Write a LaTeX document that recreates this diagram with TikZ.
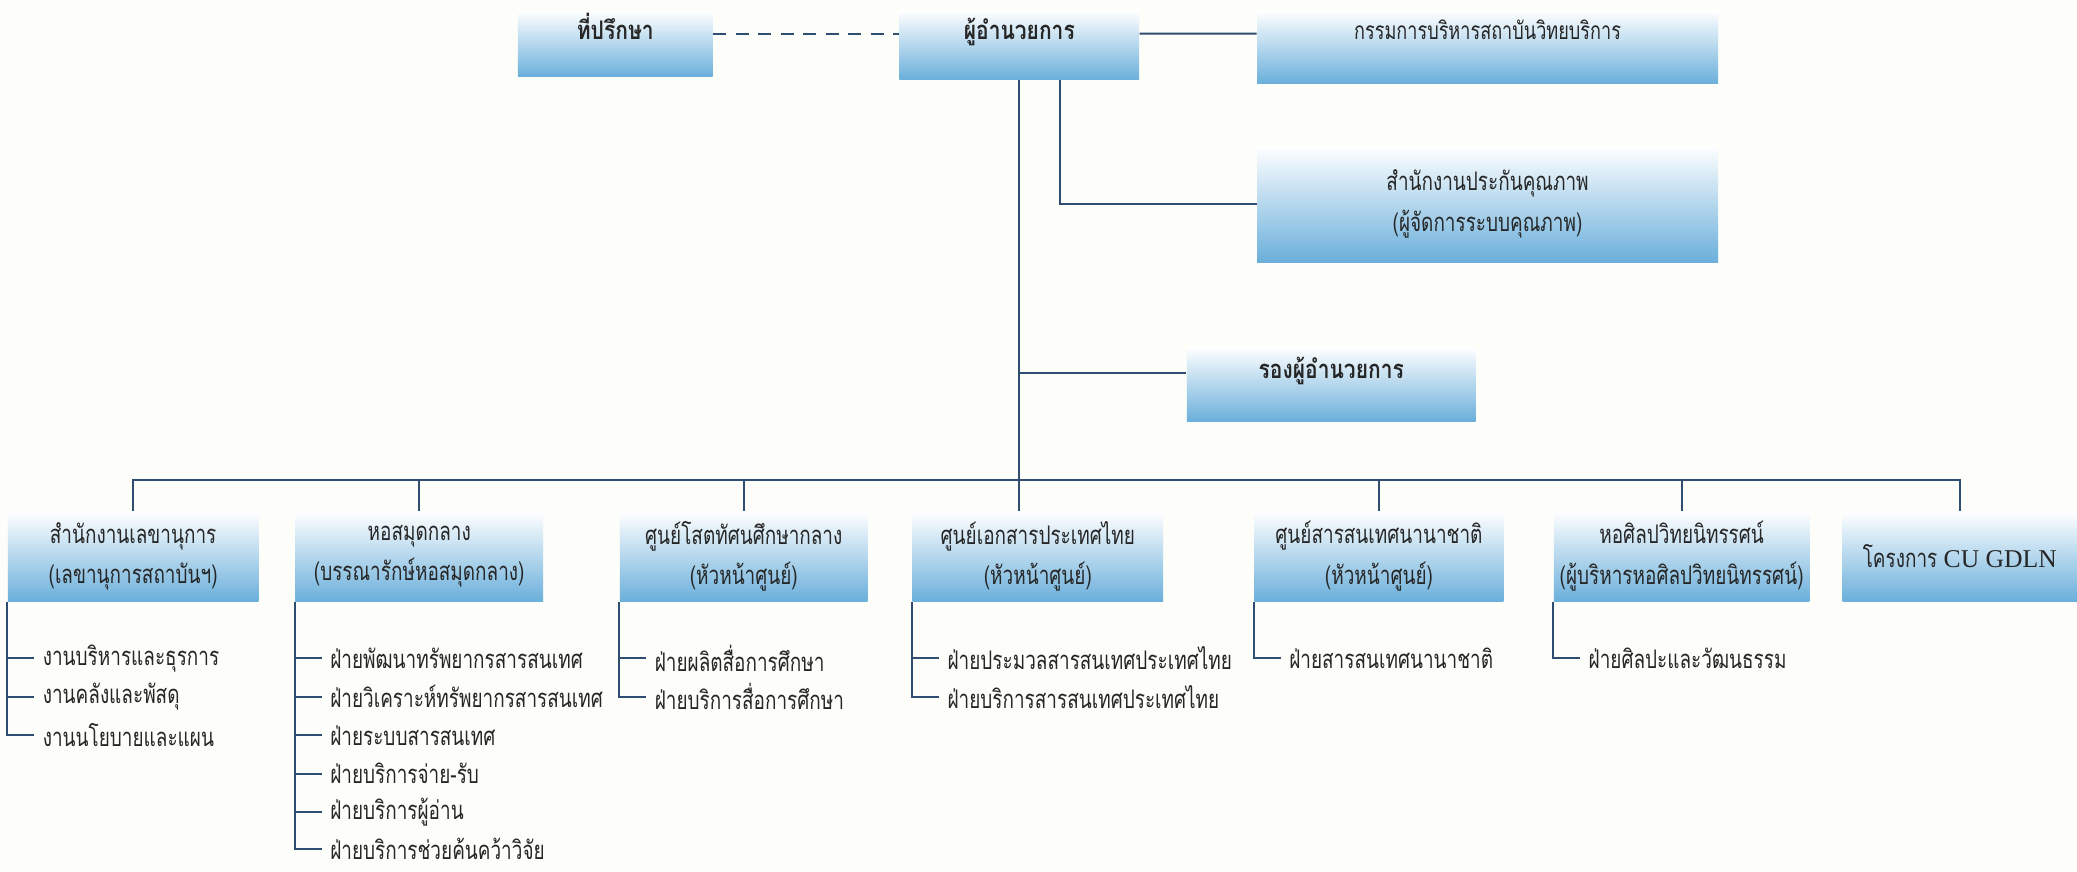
\documentclass[tikz,border=0pt]{standalone}
\usepackage{fontspec}
\usepackage{xcolor}
\usepackage{tikz}
\usetikzlibrary{positioning}
\setmainfont{Loma}[Script=Thai, FakeStretch=0.74]
\newfontfamily\headfont{Loma}[Script=Thai, FakeStretch=0.82]
\newfontfamily\latinfont{Liberation Serif}
\definecolor{boxblue}{HTML}{6AAFDB}
\definecolor{boxlight}{HTML}{CFE8F6}
\definecolor{linenavy}{HTML}{2F4D70}
\definecolor{inkgray}{HTML}{262626}
\definecolor{paper}{HTML}{FDFDF9}

\begin{document}
\begin{tikzpicture}[
    x=0.2mm, y=-0.2mm,
    every node/.style={font=\fontsize{11pt}{17.5pt}\selectfont, text=inkgray, inner sep=0pt},
    orgline/.style={line width=0.3mm, color=linenavy},
    headbox/.style={top color=white, middle color=boxlight, bottom color=boxblue, text height=4.4mm, text depth=5.6mm, font=\headfont\fontsize{11pt}{17.5pt}\selectfont\bfseries},
    unitbox/.style={top color=white, middle color=boxlight, bottom color=boxblue, minimum height=13.6mm, align=center},
    subitem/.style={anchor=west, inner xsep=1.2mm}
]
\fill[paper] (0,0) rectangle (1568,658);
\useasboundingbox (0,0) rectangle (1568,658);

\node (advisor) [headbox, minimum width=29.4mm] at (464.5,33) {ที่ปรึกษา};
\node (director) [headbox, minimum width=36.2mm, text depth=6mm] at (769.5,34) {ผู้อำนวยการ};
\node (board) [headbox, minimum width=69.6mm, text depth=6.6mm, font=\fontsize{10.5pt}{17.5pt}\selectfont] at (1123,35.5) {กรรมการบริหารสถาบันวิทยบริการ};
\node (qa) [unitbox, minimum width=69.6mm, minimum height=17.6mm] at (1123,154) {สำนักงานประกันคุณภาพ\\(ผู้จัดการระบบคุณภาพ)};
\node (deputy) [headbox, minimum width=43.6mm, text height=4.8mm, text depth=6.4mm] at (1005,290) {รองผู้อำนวยการ};
\coordinate (bus) at (769.5,362);

\node (secretariat) [unitbox, minimum width=37.8mm] at (100.5,420) {สำนักงานเลขานุการ\\(เลขานุการสถาบันฯ)};
\node (library) [unitbox, minimum width=37.4mm] at (316.5,420) {หอสมุดกลาง\\(บรรณารักษ์หอสมุดกลาง)};
\node (avcenter) [unitbox, minimum width=37.4mm] at (561.5,420) {ศูนย์โสตทัศนศึกษากลาง\\(หัวหน้าศูนย์)};
\node (thaidoc) [unitbox, minimum width=37.8mm] at (783.5,420) {ศูนย์เอกสารประเทศไทย\\(หัวหน้าศูนย์)};
\node (intlinfo) [unitbox, minimum width=37.6mm] at (1041,420) {ศูนย์สารสนเทศนานาชาติ\\(หัวหน้าศูนย์)};
\node (gallery) [unitbox, minimum width=38.6mm] at (1269.5,420) {หอศิลปวิทยนิทรรศน์\\(ผู้บริหารหอศิลปวิทยนิทรรศน์)};
\node (gdln) [unitbox, minimum width=35.4mm] at (1479.5,420) {โครงการ {\latinfont CU GDLN}};

\node (sec1) [subitem] at (26,497) {งานบริหารและธุรการ};
\node (sec2) [subitem] at (26,526) {งานคลังและพัสดุ};
\node (sec3) [subitem] at (26,555) {งานนโยบายและแผน};
\node (lib1) [subitem] at (243,497) {ฝ่ายพัฒนาทรัพยากรสารสนเทศ};
\node (lib2) [subitem] at (243,526) {ฝ่ายวิเคราะห์ทรัพยากรสารสนเทศ};
\node (lib3) [subitem] at (243,555) {ฝ่ายระบบสารสนเทศ};
\node (lib4) [subitem] at (243,584) {ฝ่ายบริการจ่าย-รับ};
\node (lib5) [subitem] at (243,613) {ฝ่ายบริการผู้อ่าน};
\node (lib6) [subitem] at (243,641) {ฝ่ายบริการช่วยค้นคว้าวิจัย};
\node (av1) [subitem] at (488,497) {ฝ่ายผลิตสื่อการศึกษา};
\node (av2) [subitem] at (488,526) {ฝ่ายบริการสื่อการศึกษา};
\node (doc1) [subitem] at (709,497) {ฝ่ายประมวลสารสนเทศประเทศไทย};
\node (doc2) [subitem] at (709,526) {ฝ่ายบริการสารสนเทศประเทศไทย};
\node (intl1) [subitem] at (967,497) {ฝ่ายสารสนเทศนานาชาติ};
\node (art1) [subitem] at (1193,497) {ฝ่ายศิลปะและวัฒนธรรม};

\draw[orgline, dash pattern=on 2mm off 1.4mm] (advisor.mid east) -- (director.mid west);
\draw[orgline] (director.mid east) -- (board.mid west);
\draw[orgline] (director.south) -- (director.south |- thaidoc.north);
\draw[orgline] ([xshift=6.1mm]director.south) |- (qa.west);
\draw[orgline] (director.south |- deputy.mid west) -- (deputy.mid west);
\draw[orgline] (bus) -| (secretariat.north);
\draw[orgline] (bus) -| (library.north);
\draw[orgline] (bus) -| (avcenter.north);
\draw[orgline] (bus) -| (intlinfo.north);
\draw[orgline] (bus) -| (gallery.north);
\draw[orgline] (bus) -| (gdln.north);

\draw[orgline] (secretariat.south west) |- (sec1.west);
\draw[orgline] (secretariat.south west) |- (sec2.west);
\draw[orgline] (secretariat.south west) |- (sec3.west);
\draw[orgline] (library.south west) |- (lib1.west);
\draw[orgline] (library.south west) |- (lib2.west);
\draw[orgline] (library.south west) |- (lib3.west);
\draw[orgline] (library.south west) |- (lib4.west);
\draw[orgline] (library.south west) |- (lib5.west);
\draw[orgline] (library.south west) |- (lib6.west);
\draw[orgline] (avcenter.south west) |- (av1.west);
\draw[orgline] (avcenter.south west) |- (av2.west);
\draw[orgline] (thaidoc.south west) |- (doc1.west);
\draw[orgline] (thaidoc.south west) |- (doc2.west);
\draw[orgline] (intlinfo.south west) |- (intl1.west);
\draw[orgline] (gallery.south west) |- (art1.west);
\end{tikzpicture}
\end{document}
